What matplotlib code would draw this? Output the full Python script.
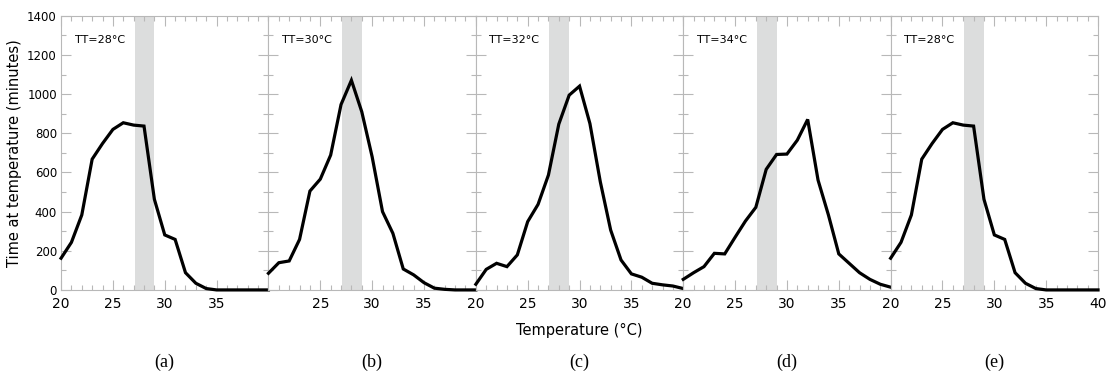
import matplotlib
matplotlib.use('Agg')
import matplotlib.pyplot as plt
from matplotlib.ticker import MultipleLocator

# --- data ---
temps = list(range(20, 41))
time_a = [162, 243, 383, 668, 748, 820, 854, 842, 837, 463, 281, 258, 88, 34, 7, 0, 0, 0, 0, 0, 0]
time_b = [85, 139, 148, 258, 505, 566, 689, 947, 1071, 910, 680, 400, 289, 107, 77, 37, 9, 3, 0, 0, 0]
time_c = [29, 105, 136, 119, 179, 349, 437, 587, 847, 995, 1041, 850, 553, 306, 153, 82, 65, 34, 26, 20, 7]
time_d = [54, 88, 119, 187, 184, 269, 352, 422, 616, 692, 694, 765, 871, 561, 383, 184, 136, 88, 54, 29, 14]
time_e = [162, 243, 383, 668, 748, 820, 854, 842, 837, 463, 281, 258, 88, 34, 7, 0, 0, 0, 0, 0, 0]

series = [time_a, time_b, time_c, time_d, time_e]
titles = ['TT=28°C', 'TT=30°C', 'TT=32°C', 'TT=34°C', 'TT=28°C']
letters = ['(a)', '(b)', '(c)', '(d)', '(e)']
xtick_sets = [[20, 25, 30, 35], [25, 30, 35], [20, 25, 30, 35], [20, 25, 30, 35], [20, 25, 30, 35, 40]]
band = (27.1, 29.0)

grey = '#b8b8b8'

fig, axes = plt.subplots(1, 5, figsize=(11.06, 3.78), dpi=100, sharey=True)
fig.subplots_adjust(left=0.0552, right=0.9928, top=0.958, bottom=0.233, wspace=0)

for i, ax in enumerate(axes):
    ax.axvspan(band[0], band[1], color='#dcdddd', lw=0, zorder=0)
    ax.plot(temps, series[i], color='black', lw=2.3, zorder=3, clip_on=False,
            solid_joinstyle='miter')
    ax.set_xlim(20, 40)
    ax.set_ylim(0, 1400)
    ax.xaxis.set_minor_locator(MultipleLocator(1))
    ax.yaxis.set_major_locator(MultipleLocator(200))
    ax.yaxis.set_minor_locator(MultipleLocator(100))
    ax.set_xticks(xtick_sets[i])
    ax.tick_params(which='both', direction='in', top=True, right=True, left=True,
                   color=grey, width=0.8)
    ax.tick_params(which='major', length=7)
    ax.tick_params(which='minor', length=3.5)
    ax.tick_params(axis='x', labelsize=10, pad=5)
    ax.tick_params(axis='y', labelsize=8.5, pad=3)
    for s in ax.spines.values():
        s.set_color(grey)
        s.set_linewidth(0.8)
    ax.text(0.065, 0.912, titles[i], transform=ax.transAxes, fontsize=8,
            va='center', ha='left')
    pos = ax.get_position()
    fig.text((pos.x0 + pos.x1) / 2, 0.042, letters[i], ha='center', va='center',
             fontsize=13, family='Liberation Serif')

axes[0].set_ylabel('Time at temperature (minutes)', fontsize=10.5, labelpad=4)
fig.text(0.524, 0.127, 'Temperature (°C)', ha='center', va='center', fontsize=10.5)

fig.savefig('out.png', dpi=100)
